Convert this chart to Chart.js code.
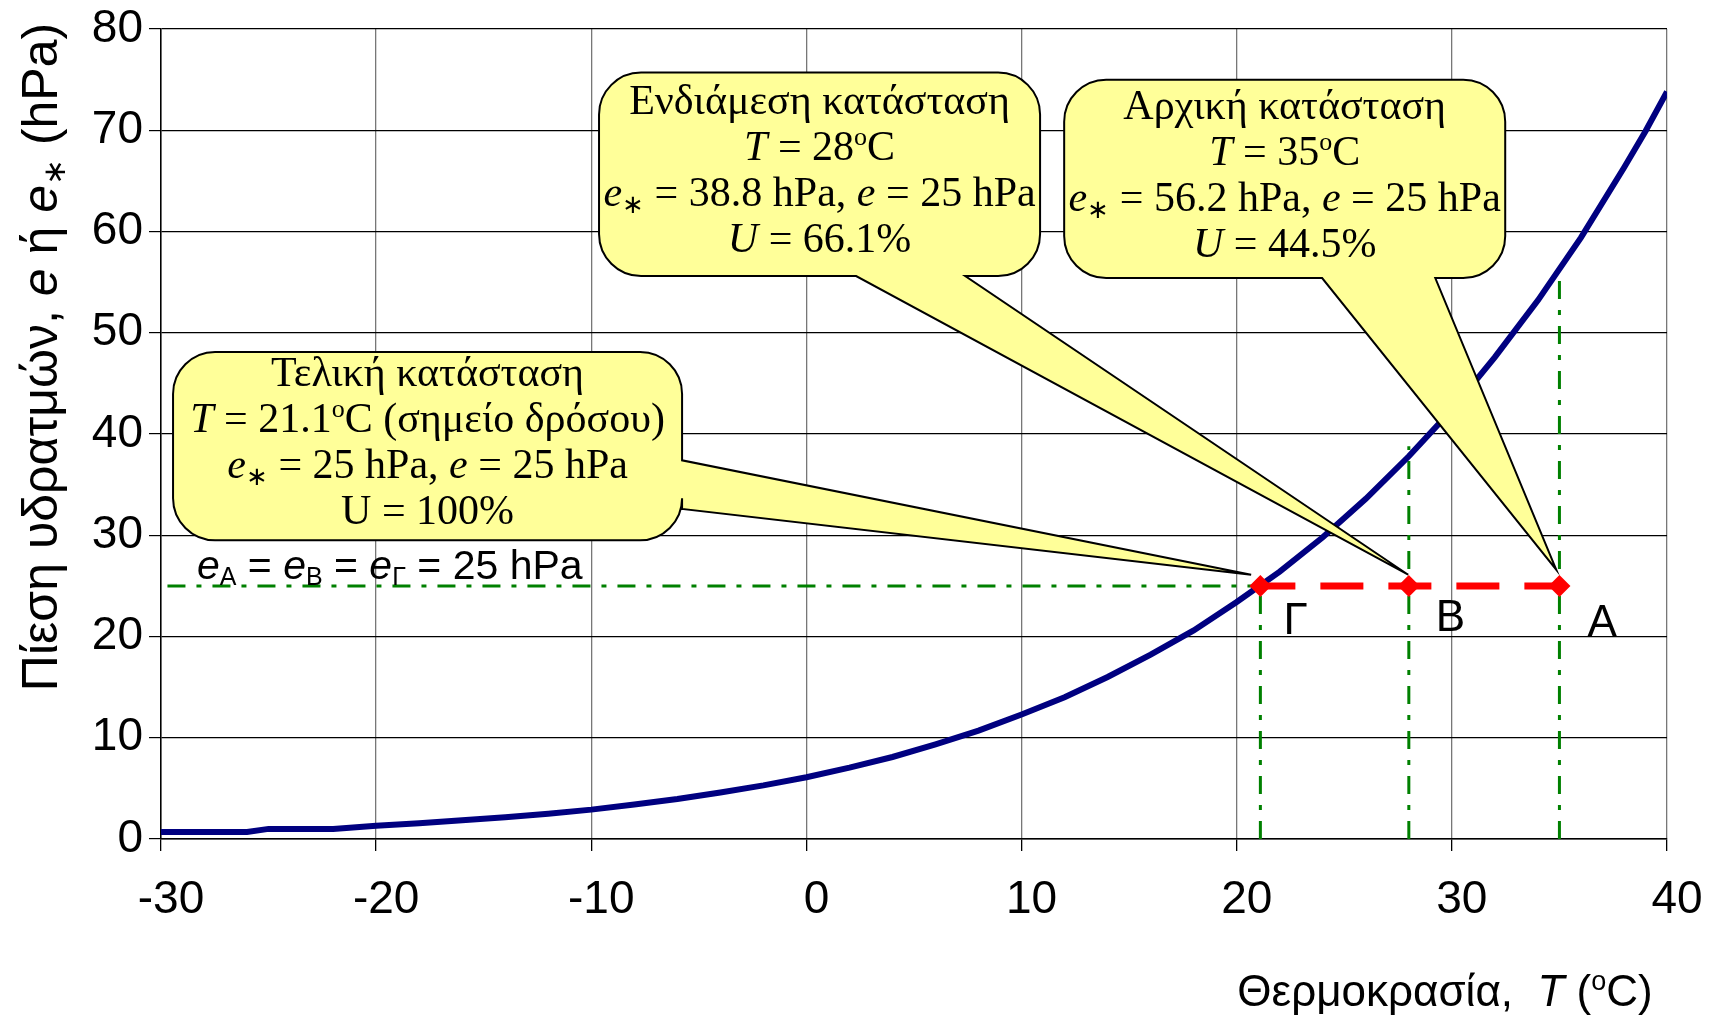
<!DOCTYPE html>
<html>
<head>
<meta charset="utf-8">
<title>Πίεση υδρατμών</title>
<script src="https://cdn.jsdelivr.net/npm/chart.js@4/dist/chart.umd.min.js"></script>
<style>
    html, body { margin: 0; padding: 0; background: #fff; }
    #chart { display: block; }
</style>
</head>
<body>
<canvas id="chart" width="1720" height="1018" style="width:1720px;height:1018px"></canvas>
<script>
// ============================================================================
// Data
// ============================================================================

// saturation vapour pressure curve
const temps = [-30, -28, -26, -25, -24, -22, -20, -18, -16, -14, -12, -10, -8, -6, -4, -2,
               0, 2, 4, 6, 8, 10, 12, 14, 16, 18, 20, 22, 24, 26, 28, 30, 32, 34, 36, 38, 39, 40];
const eSat = [0.7, 0.7, 0.7, 1.0, 1.0, 1.0, 1.3, 1.55, 1.85, 2.15, 2.5, 2.9, 3.4, 3.95, 4.6, 5.3,
              6.1, 7.05, 8.1, 9.35, 10.7, 12.3, 14.0, 16.0, 18.2, 20.6, 23.4, 26.4, 29.8, 33.6, 37.8, 42.4,
              47.6, 53.2, 59.4, 66.3, 69.9, 73.8];

// the three states Γ, B, A
const stateNames = ['Γ', 'B', 'A'];
const stateT = [21.1, 28, 35];
const stateE = [25, 25, 25];
const stateESat = [25, 38.8, 56.2];

// start of the e = 25 hPa guide line
const guideStartT = -29.7;

// ============================================================================
// Styling / layout
// ============================================================================

const SANS = "'Liberation Sans', Arial, sans-serif";
const SERIF = "'Liberation Serif', 'Times New Roman', serif";
const CALLOUT_FILL = '#FFFF99';
const GREEN = '#008000';
const GREEN_DASH = [18, 11, 5, 11];

// callouts: box in data units [T left, T right, e top, e bottom]
const callouts = [
    {
        box: [-29.44, -5.78, 48.1, 29.5], side: 'right', base: [37.4, 32.6], tip: [20.67, 26.1],
        lines: [
            [['Τελική κατάσταση', '']],
            [['T', 'i'], [' = 21.1', ''], ['o', 'sup'], ['C (σημείο δρόσου)', '']],
            [['e', 'i'], ['∗', 'sub'], [' = 25 hPa, ', ''], ['e', 'i'], [' = 25 hPa', '']],
            [['U = 100%', '']]
        ]
    },
    {
        box: [-9.64, 10.86, 75.7, 55.6], side: 'bottom', base: [2.31, 7.38], tip: [27.97, 26.1],
        lines: [
            [['Ενδιάμεση κατάσταση', '']],
            [['T', 'i'], [' = 28', ''], ['o', 'sup'], ['C', '']],
            [['e', 'i'], ['∗', 'sub'], [' = 38.8 hPa, ', ''], ['e', 'i'], [' = 25 hPa', '']],
            [['U', 'i'], [' = 66.1%', '']]
        ]
    },
    {
        box: [11.98, 32.48, 75.0, 55.4], side: 'bottom', base: [23.97, 29.23], tip: [34.85, 26.6],
        lines: [
            [['Αρχική κατάσταση', '']],
            [['T', 'i'], [' = 35', ''], ['o', 'sup'], ['C', '']],
            [['e', 'i'], ['∗', 'sub'], [' = 56.2 hPa, ', ''], ['e', 'i'], [' = 25 hPa', '']],
            [['U', 'i'], [' = 44.5%', '']]
        ]
    }
];

// ============================================================================
// Rich text helpers
// ============================================================================

function runFont(style, size, family) {
    const small = style === 'sup' || style === 'sub';
    const s = small ? Math.round(size * 0.62) : size;
    return (style === 'i' ? 'italic ' : '') + s + 'px ' + family;
}

function runsWidth(ctx, runs, size, family) {
    let w = 0;
    runs.forEach(r => {
        ctx.font = runFont(r[1], size, family);
        w += ctx.measureText(r[0]).width;
    });
    return w;
}

function drawRuns(ctx, runs, x, y, size, family, align) {
    const w = runsWidth(ctx, runs, size, family);
    let cx = align === 'center' ? x - w / 2 : (align === 'right' ? x - w : x);
    ctx.textAlign = 'left';
    ctx.textBaseline = 'alphabetic';
    runs.forEach(r => {
        ctx.font = runFont(r[1], size, family);
        let dy = 0;
        if (r[1] === 'sup') dy = -0.36 * size;
        if (r[1] === 'sub') dy = 0.16 * size;
        ctx.fillText(r[0], cx, y + dy);
        cx += ctx.measureText(r[0]).width;
    });
}

// ============================================================================
// Callout shape
// ============================================================================

function calloutPath(ctx, x0, y0, x1, y1, r, side, b0, b1, tx, ty) {
    ctx.beginPath();
    ctx.moveTo(x0 + r, y0);
    ctx.lineTo(x1 - r, y0);
    ctx.arcTo(x1, y0, x1, y0 + r, r);
    if (side === 'right') {
        ctx.lineTo(x1, b0);
        ctx.lineTo(tx, ty);
        ctx.lineTo(x1, b1);
    }
    ctx.lineTo(x1, y1 - r);
    ctx.arcTo(x1, y1, x1 - r, y1, r);
    if (side === 'bottom') {
        ctx.lineTo(b1, y1);
        ctx.lineTo(tx, ty);
        ctx.lineTo(b0, y1);
    }
    ctx.lineTo(x0 + r, y1);
    ctx.arcTo(x0, y1, x0, y1 - r, r);
    ctx.lineTo(x0, y0 + r);
    ctx.arcTo(x0, y0, x0 + r, y0, r);
    ctx.closePath();
}

// ============================================================================
// Overlay plugin: titles, callouts, point letters
// ============================================================================

const overlay = {
    id: 'overlay',
    afterDatasetsDraw(chart) {
        const ctx = chart.ctx;
        const xs = chart.scales.x;
        const ys = chart.scales.y;
        ctx.save();
        ctx.fillStyle = '#000';

        // e_A = e_B = e_Γ = 25 hPa
        drawRuns(ctx, [['e', 'i'], ['A', 'sub'], [' = ', ''], ['e', 'i'], ['B', 'sub'], [' = ', ''],
                       ['e', 'i'], ['Γ', 'sub'], [' = 25 hPa', '']],
                 xs.getPixelForValue(-28.33), ys.getPixelForValue(25) - 7, 41, SANS, 'left');

        // letters next to the state points
        ctx.font = '44px ' + SANS;
        ctx.textAlign = 'left';
        ctx.textBaseline = 'alphabetic';
        const letterDx = [23, 27, 28];
        const letterDy = [48, 45, 50];
        stateNames.forEach((n, i) => {
            ctx.fillText(n, xs.getPixelForValue(stateT[i]) + letterDx[i], ys.getPixelForValue(stateE[i]) + letterDy[i]);
        });

        // callouts
        callouts.forEach(c => {
            const x0 = xs.getPixelForValue(c.box[0]);
            const x1 = xs.getPixelForValue(c.box[1]);
            const y0 = ys.getPixelForValue(c.box[2]);
            const y1 = ys.getPixelForValue(c.box[3]);
            const tx = xs.getPixelForValue(c.tip[0]);
            const ty = ys.getPixelForValue(c.tip[1]);
            let b0, b1;
            if (c.side === 'right') {
                b0 = ys.getPixelForValue(c.base[0]);
                b1 = ys.getPixelForValue(c.base[1]);
            } else {
                b0 = xs.getPixelForValue(c.base[0]);
                b1 = xs.getPixelForValue(c.base[1]);
            }
            calloutPath(ctx, x0, y0, x1, y1, 42, c.side, b0, b1, tx, ty);
            ctx.fillStyle = CALLOUT_FILL;
            ctx.fill();
            ctx.lineWidth = 2;
            ctx.strokeStyle = '#000';
            ctx.lineJoin = 'miter';
            ctx.stroke();

            ctx.fillStyle = '#000';
            const size = 42;
            const lh = 46;
            const cx = (x0 + x1) / 2;
            const cy = (y0 + y1) / 2;
            c.lines.forEach((line, i) => {
                const base = cy + (i - 1.5) * lh + 9;
                drawRuns(ctx, line, cx, base, size, SERIF, 'center');
            });
        });

        // x axis title
        drawRuns(ctx, [['Θερμοκρασία,  ', ''], ['T', 'i'], [' (', ''], ['o', 'sup'], ['C)', '']],
                 1445, 1006, 44, SANS, 'center');

        // y axis title (rotated)
        ctx.save();
        ctx.translate(57, 357);
        ctx.rotate(-Math.PI / 2);
        drawRuns(ctx, [['Πίεση υδρατμών, ', ''], ['e', 'i'], [' ή ', ''], ['e', 'i'], ['∗', 'sub'], [' (hPa)', '']],
                 0, 0, 50, SANS, 'center');
        ctx.restore();

        ctx.restore();
    }
};

// ============================================================================
// Chart
// ============================================================================

const curvePoints = temps.map((t, i) => ({ x: t, y: eSat[i] }));
const statePoints = stateT.map((t, i) => ({ x: t, y: stateE[i] }));

const greenLine = (data) => ({
    data: data,
    borderColor: GREEN,
    borderWidth: 3,
    borderDash: GREEN_DASH,
    pointRadius: 0,
    fill: false,
    order: 3
});

const datasets = [
    {
        label: 'e = 25 hPa',
        data: statePoints,
        borderColor: '#FF0000',
        borderWidth: 7,
        borderDash: [43, 25],
        borderDashOffset: 8,
        pointStyle: 'rectRot',
        pointRadius: 11,
        pointBackgroundColor: '#FF0000',
        pointBorderColor: '#FF0000',
        pointBorderWidth: 0,
        fill: false,
        order: 0
    },
    {
        label: 'e*',
        data: curvePoints,
        borderColor: '#000080',
        borderWidth: 6,
        pointRadius: 0,
        tension: 0,
        fill: false,
        order: 1
    },
    greenLine([{ x: guideStartT, y: stateE[0] }, { x: stateT[0], y: stateE[0] }])
];
stateT.forEach((t, i) => {
    datasets.push(greenLine([{ x: t, y: 0 }, { x: t, y: stateESat[i] }]));
});

const tickFont = { family: SANS, size: 46, lineHeight: 1 };

new Chart(document.getElementById('chart').getContext('2d'), {
    type: 'line',
    data: { datasets: datasets },
    options: {
        responsive: false,
        animation: false,
        devicePixelRatio: 1,
        layout: { padding: { left: 0, right: 53, top: 24, bottom: 0 } },
        plugins: {
            legend: { display: false },
            tooltip: { enabled: false }
        },
        scales: {
            x: {
                type: 'linear',
                min: -30,
                max: 40,
                ticks: { stepSize: 10, font: tickFont, color: '#000', padding: 26, labelOffset: 10, maxRotation: 0 },
                grid: { color: '#777', lineWidth: 1.3, tickColor: '#000', tickLength: 12 },
                border: { color: '#000', width: 1.5 },
                afterFit(scale) { scale.height = 179; }
            },
            y: {
                type: 'linear',
                min: 0,
                max: 80,
                ticks: { stepSize: 10, font: tickFont, color: '#000', padding: 6 },
                grid: { color: '#000', lineWidth: 1.2, tickColor: '#000', tickLength: 12 },
                border: { color: '#000', width: 1.5 },
                afterFit(scale) { scale.width = 161; }
            }
        }
    },
    plugins: [overlay]
});
</script>
</body>
</html>
